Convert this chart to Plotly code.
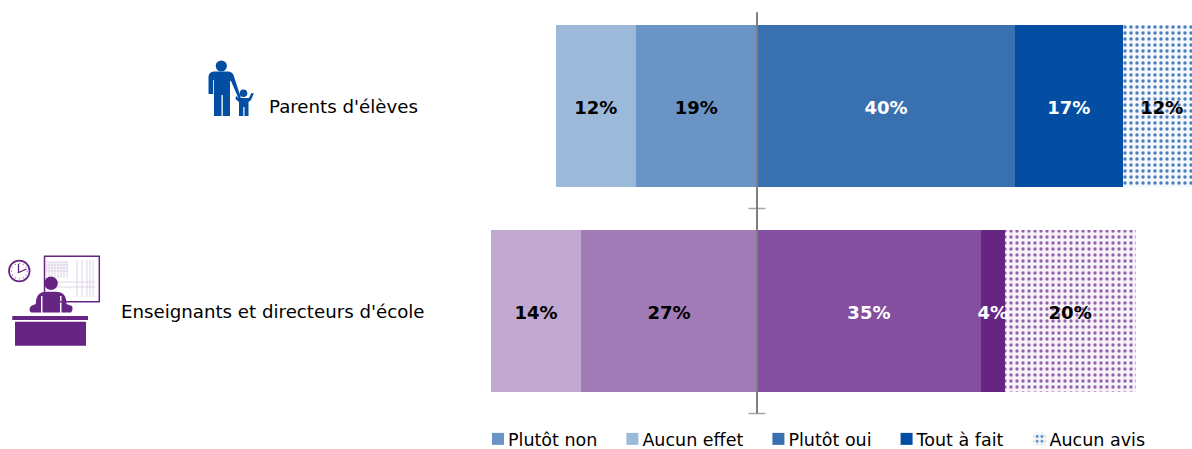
import math
import plotly.graph_objects as go

W, H = 1192, 449
categories = ["Parents d'élèves", "Enseignants et directeurs d'école"]
series_names = ["Plutôt non", "Aucun effet", "Plutôt oui", "Tout à fait", "Aucun avis"]
plutot_non = [18.8, 27.3]
aucun_effet = [12.4, 13.95]
plutot_oui = [40.0, 34.7]
tout_a_fait = [16.7, 3.7]
aucun_avis = [12.1, 20.3]
labels_non = ["19%", "27%"]
labels_effet = ["12%", "14%"]
labels_oui = ["40%", "35%"]
labels_fait = ["17%", "4%"]
labels_avis = ["12%", "20%"]

colors_non = ["#6A94C6", "#A27CB6"]
colors_effet = ["#9DB9DA", "#C0A8D0"]
colors_oui = ["#3870B0", "#834F9E"]
colors_fait = ["#034EA2", "#662483"]
colors_avis = ["#4A7DBB", "#9363AA"]
colors_avis_bg = ["#F3F6FB", "#F7F2F9"]

FONT = "DejaVu Sans"
PX_PER_PCT = 6.45
ZERO_PX = 757
ROW_PX = 205
ROW0_PX = 106
y_pos = [0, 1]

fig = go.Figure()
neg = [(plutot_non, colors_non), (aucun_effet, colors_effet)]
for name, (vals, cols) in zip(series_names[:2], neg):
    fig.add_trace(go.Bar(name=name, y=y_pos, x=[-v for v in vals], orientation="h",
                         marker=dict(color=cols, line_width=0), width=0.79))
for name, vals, cols in zip(series_names[2:4], [plutot_oui, tout_a_fait], [colors_oui, colors_fait]):
    fig.add_trace(go.Bar(name=name, y=y_pos, x=vals, orientation="h",
                         marker=dict(color=cols, line_width=0), width=0.79))
fig.add_trace(go.Bar(name=series_names[4], y=y_pos, x=aucun_avis, orientation="h", width=0.79,
                     marker=dict(color="#FFFFFF", line_width=0,
                                 pattern=dict(shape=".", fgcolor=colors_avis, bgcolor=colors_avis_bg,
                                              size=6, solidity=0.25, fillmode="replace"))))

# zero axis with its category separators
axis_y = [-0.457, 0.5, 1.5]
fig.add_trace(go.Scatter(x=[0, 0, 0], y=axis_y, mode="lines+markers", showlegend=False, hoverinfo="skip",
                         line=dict(color="#7F7F7F", width=2),
                         marker=dict(symbol="line-ew", size=[0, 12, 12],
                                     line=dict(color="#7F7F7F", width=1.5))))

# data labels placed at the centre of each segment
def add_labels(starts, vals, texts, colors):
    fig.add_trace(go.Scatter(x=[s + v / 2 for s, v in zip(starts, vals)],
                             y=[p + 0.015 for p in y_pos], text=texts, mode="text", showlegend=False,
                             hoverinfo="skip", cliponaxis=False,
                             textfont=dict(family=FONT, size=18, color=colors, weight="bold")))

add_labels([-v for v in plutot_non], plutot_non, labels_non, ["#000000"] * 2)
add_labels([-a - b for a, b in zip(plutot_non, aucun_effet)], aucun_effet, labels_effet, ["#000000"] * 2)
add_labels([0, 0], plutot_oui, labels_oui, ["#FFFFFF"] * 2)
add_labels(plutot_oui, tout_a_fait, labels_fait, ["#FFFFFF"] * 2)
add_labels([a + b for a, b in zip(plutot_oui, tout_a_fait)], aucun_avis, labels_avis, ["#000000"] * 2)

# pictograms, drawn in page pixels
def fx(px): return px / W
def fy(py): return 1 - py / H
def shape_path(d, fill=None, line=None, lw=0):
    fig.add_shape(type="path", path=d, xref="paper", yref="paper", layer="above",
                  fillcolor=fill if fill else "rgba(0,0,0,0)",
                  line=dict(color=line if line else "rgba(0,0,0,0)", width=lw))
def poly(cmds):
    out = []
    for c, *pts in cmds:
        coords = " ".join(f"{fx(pts[i]):.5f},{fy(pts[i+1]):.5f}" for i in range(0, len(pts), 2))
        out.append(f"{c}{coords}")
    return " ".join(out)
def circle(cx, cy, r, fill=None, line=None, lw=0):
    fig.add_shape(type="circle", xref="paper", yref="paper", layer="above",
                  x0=fx(cx - r), x1=fx(cx + r), y0=fy(cy + r), y1=fy(cy - r),
                  fillcolor=fill if fill else "rgba(0,0,0,0)",
                  line=dict(color=line if line else "rgba(0,0,0,0)", width=lw))

BLUE, PURPLE = "#034EA2", "#662483"
circle(221.3, 66, 5.6, BLUE)
shape_path(poly([("M", 208.5, 77), ("Q", 208.5, 71.5, 215, 71.5), ("L", 228, 71.5), ("Q", 232, 71.5, 233.5, 75),
                 ("L", 241, 98), ("L", 239, 99.5), ("L", 231, 81), ("L", 230, 81), ("L", 230, 116),
                 ("L", 222.8, 116), ("L", 222.8, 95), ("L", 221.5, 95), ("L", 221.5, 116), ("L", 214, 116),
                 ("L", 214, 80), ("L", 213.2, 80), ("L", 213.2, 94), ("L", 208.5, 94), ("Z",)]), BLUE)
circle(243.5, 93.2, 3.8, BLUE)
shape_path(poly([("M", 236, 96), ("L", 238.5, 98), ("L", 249, 98), ("L", 251.5, 93), ("L", 253.8, 93.5),
                 ("L", 251, 100), ("L", 248.5, 102), ("L", 248.5, 116), ("L", 244.5, 116), ("L", 244.5, 107),
                 ("L", 243.3, 107), ("L", 243.3, 116), ("L", 239, 116), ("L", 239, 102), ("L", 235.5, 99), ("Z",)]), BLUE)

# board
fig.add_shape(type="rect", xref="paper", yref="paper", layer="above", x0=fx(44.5), x1=fx(99.3),
              y0=fy(301.7), y1=fy(256.3), fillcolor="#FFFFFF", line=dict(color=PURPLE, width=1.5))
grid = [("M", x, 262, "L", x, 278) for x in (46, 49, 52, 55, 58, 61, 64, 67)]
grid += [("M", x, 260, "L", x, 297) for x in (77, 82, 87, 90, 93)]
grid += [("M", 46, y, "L", 68, y) for y in (262, 265, 268, 271)]
grid += [("M", 50, y, "L", 95, y) for y in (282, 287)]
for g in grid:
    shape_path(poly([(g[0], g[1], g[2]), (g[3], g[4], g[5])]), None, "#DCD3E6", 1)
# clock
circle(19.3, 271, 10.3, "#FFFFFF", PURPLE, 1.7)
for k in range(12):
    a = k * math.pi / 6
    circle(19.3 + 7.8 * math.cos(a), 271 + 7.8 * math.sin(a), 0.5, PURPLE)
shape_path(poly([("M", 18.5, 264), ("L", 18.5, 272.5), ("L", 26.5, 269)]), None, PURPLE, 1.3)
# person and desk
circle(51, 283.3, 6.8, PURPLE)
shape_path(poly([("M", 35.8, 304), ("Q", 36, 291.7, 46, 291.7), ("L", 56, 291.7), ("Q", 66.5, 291.7, 66.5, 304),
                 ("L", 72, 306), ("Q", 73.5, 309.3, 71, 312.5), ("L", 61.5, 312.5), ("L", 61.5, 296),
                 ("L", 60, 296), ("L", 60, 312.5), ("L", 42.5, 312.5), ("L", 42.5, 296), ("L", 41, 296),
                 ("L", 41, 312.5), ("L", 31, 312.5), ("Q", 28, 309.3, 31, 306), ("Z",)]), PURPLE)
fig.add_shape(type="rect", xref="paper", yref="paper", layer="above", x0=fx(12.3), x1=fx(88), y0=fy(320), y1=fy(316),
              fillcolor=PURPLE, line_width=0)
fig.add_shape(type="rect", xref="paper", yref="paper", layer="above", x0=fx(15), x1=fx(86), y0=fy(345.7), y1=fy(321.7),
              fillcolor=PURPLE, line_width=0)

for cat, yy, right in zip(categories, y_pos, [420, 427]):
    fig.add_annotation(text=cat, x=fx(right), y=yy, xref="paper", yref="y", xanchor="right", yanchor="middle",
                       showarrow=False, font=dict(family=FONT, size=18.2, color="#000000"))

fig.update_layout(
    width=W, height=H, barmode="relative", bargap=0, margin=dict(l=0, r=0, t=0, b=0, autoexpand=False),
    paper_bgcolor="#FFFFFF", plot_bgcolor="#FFFFFF", font=dict(family=FONT, size=18, color="#000000"),
    xaxis=dict(range=[-ZERO_PX / PX_PER_PCT, (W - ZERO_PX) / PX_PER_PCT], visible=False, fixedrange=True),
    yaxis=dict(range=[y_pos[0] + (H - ROW0_PX) / ROW_PX, y_pos[0] - ROW0_PX / ROW_PX], visible=False, fixedrange=True),
    legend=dict(orientation="h", x=fx(468), xanchor="left", y=fy(421), yanchor="top",
                bgcolor="rgba(0,0,0,0)", traceorder="normal", itemwidth=30, tracegroupgap=0,
                font=dict(family=FONT, size=17.5, color="#000000")),
    showlegend=True,
)
post = ("document.body.style.margin='0';"
        "document.querySelectorAll('.legendsymbols').forEach(function(e){e.setAttribute('transform','translate(10,0)');});")
fig.write_html("out.html", config={"displayModeBar": False}, post_script=post)
